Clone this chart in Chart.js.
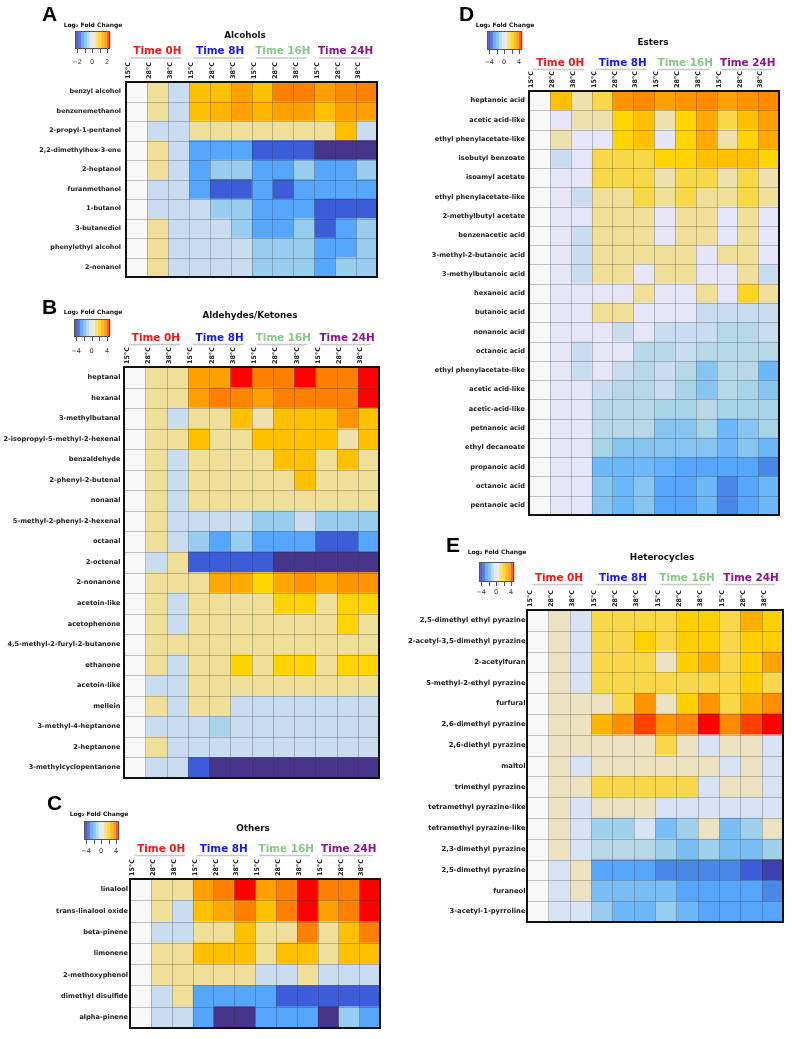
<!DOCTYPE html>
<html><head><meta charset="utf-8">
<script src="https://cdn.jsdelivr.net/npm/chart.js@4.4.1/dist/chart.umd.min.js"></script>
<style>
html,body{margin:0;padding:0;background:#fff;}
#wrap{position:relative;width:792px;height:1039px;overflow:hidden;background:#fff;}
canvas{position:absolute;left:0;top:0;}
</style>
</head><body><div id="wrap">
<canvas id="cA" width="792" height="1039"></canvas>
<canvas id="cB" width="792" height="1039"></canvas>
<canvas id="cC" width="792" height="1039"></canvas>
<canvas id="cD" width="792" height="1039"></canvas>
<canvas id="cE" width="792" height="1039"></canvas>
</div>
<script>
// ---------- data ----------
const tempLabels = ['15°C', '28°C', '38°C'];
const timeLabels = ['Time 0H', 'Time 8H', 'Time 16H', 'Time 24H'];
const timeColors = ['#f01818', '#1818ee', '#88c888', '#8a168a'];

const alcoholsRows = ['benzyl alcohol','benzenemethanol','2-propyl-1-pentanol','2,2-dimethylhex-3-ene','2-heptanol','furanmethanol','1-butanol','3-butanediol','phenylethyl alcohol','2-nonanol'];
const alcoholsValues = [
  [0, 0.3, -0.25, 1.0, 1.0, 1.3, 1.0, 1.6, 1.6, 1.3, 1.5, 1.6],
  [0, 0.3, -0.25, 1.0, 1.1, 1.3, 1.1, 1.3, 1.3, 1.0, 1.3, 1.3],
  [0, -0.25, -0.25, 0.3, 0.3, 0.3, 0.3, 0.3, 0.3, 0.3, 1.0, -0.25],
  [0, 0.3, -0.25, -1.1, -1.1, -1.1, -1.5, -1.5, -1.5, -2, -2, -2],
  [0, 0.3, -0.25, -1.1, -0.6, -0.6, -1.1, -1.1, -0.6, -1.1, -1.1, -0.6],
  [0, -0.25, -0.25, -1.1, -1.5, -1.5, -1.1, -1.5, -1.1, -1.1, -1.1, -1.1],
  [0, -0.25, -0.25, -0.25, -0.6, -0.6, -1.1, -1.1, -1.1, -1.5, -1.5, -1.5],
  [0, 0.3, -0.25, -0.25, -0.25, -0.6, -1.1, -1.1, -0.6, -1.5, -1.1, -0.6],
  [0, 0.3, -0.25, -0.25, -0.25, -0.25, -0.6, -0.6, -0.6, -1.1, -1.1, -0.6],
  [0, 0.3, -0.25, -0.25, -0.25, -0.25, -0.6, -0.6, -0.6, -1.1, -0.6, -0.6]
];

const aldehydesRows = ['heptanal','hexanal','3-methylbutanal','2-isopropyl-5-methyl-2-hexenal','benzaldehyde','2-phenyl-2-butenal','nonanal','5-methyl-2-phenyl-2-hexenal','octanal','2-octenal','2-nonanone','acetoin-like','acetophenone','4,5-methyl-2-furyl-2-butanone','ethanone','acetoin-like','mellein','3-methyl-4-heptanone','2-heptanone','3-methylcyclopentanone'];
const aldehydesValues = [
  [0, 0.6, 0.6, 2.6, 2.6, 4, 3.2, 3.2, 4, 3.2, 3.2, 4],
  [0, 0.6, 0.6, 2.6, 3.2, 3.1, 2.6, 3.2, 3.2, 3.2, 3.2, 4],
  [0, 0.6, -0.5, 0.6, 0.6, 2.0, 0.5, 2.0, 2.0, 2.0, 2.8, 2.0],
  [0, 0.6, 0.6, 2.0, 0.6, 0.6, 2.0, 2.0, 2.0, 2.0, 0.5, 2.0],
  [0, 0.6, -0.5, 0.6, 0.6, 0.6, 0.6, 2.0, 2.0, 0.6, 2.0, 0.6],
  [0, 0.6, -0.5, 0.6, 0.6, 0.6, 0.6, 0.6, 2.0, 0.6, 0.6, 0.6],
  [0, 0.6, -0.5, 0.6, 0.6, 0.6, 0.6, 0.6, 0.6, 0.6, 0.6, 0.6],
  [0, 0.6, -0.5, -0.5, -0.5, -0.5, -1.2, -1.2, -0.5, -1.2, -1.2, -1.2],
  [0, 0.6, -0.5, -1.2, -2.2, -1.2, -2.2, -2.2, -2.2, -3, -3, -2.2],
  [0, -0.5, 0.6, -3, -3, -3, -3, -4, -4, -4, -4, -4],
  [0, 0.6, 0.6, 0.6, 2.4, 2.4, 1.6, 2.4, 2.8, 2.4, 2.8, 2.8],
  [0, 0.6, -0.5, 0.6, 0.6, 0.6, 0.6, 1.6, 1.6, 0.6, 1.6, 1.6],
  [0, 0.6, -0.5, 0.6, 0.6, 0.6, 0.6, 0.6, 0.6, 0.6, 1.6, 0.6],
  [0, 0.6, 0.6, 0.6, 0.6, 0.6, 0.6, 0.6, 0.6, 0.6, 0.6, 0.6],
  [0, 0.6, -0.5, 0.6, 0.6, 1.6, 0.6, 1.6, 1.6, 0.6, 1.6, 1.6],
  [0, -0.5, -0.5, 0.6, 0.6, 0.6, 0.6, 0.6, 0.6, 0.6, 0.6, 0.6],
  [0, 0.6, -0.5, 0.6, 0.6, -0.5, -0.5, -0.5, -0.5, -0.5, -0.5, -0.5],
  [0, -0.5, -0.5, -0.5, -1.0, -0.5, -0.5, -0.5, -0.5, -0.5, -0.5, -0.5],
  [0, 0.6, -0.5, -0.5, -0.5, -0.5, -0.5, -0.5, -0.5, -0.5, -0.5, -0.5],
  [0, -0.5, -0.5, -3, -4, -4, -4, -4, -4, -4, -4, -4]
];

const othersRows = ['linalool','trans-linalool oxide','beta-pinene','limonene','2-methoxyphenol','dimethyl disulfide','alpha-pinene'];
const othersValues = [
  [0, 0.6, 0.6, 2.6, 3.2, 4, 2.6, 3.2, 4, 3.2, 3.2, 4],
  [0, 0.6, -0.5, 2.0, 2.4, 3.2, 2.0, 3.2, 4, 2.6, 3.2, 4],
  [0, -0.5, -0.5, 0.6, 0.6, 2.0, 0.6, 0.6, 3.2, 0.6, 2.0, 3.2],
  [0, 0.6, 0.6, 2.0, 2.0, 2.0, 0.6, 2.0, 2.0, 0.6, 2.0, 2.0],
  [0, 0.6, 0.6, 0.6, 0.6, 0.6, -0.5, -0.5, 0.6, -0.5, -0.5, -0.5],
  [0, -0.5, 0.6, -2.2, -2.2, -2.2, -2.2, -3, -3, -3, -3, -3],
  [0, -0.5, -0.5, -2.2, -4, -4, -2.2, -2.2, -2.2, -4, -1.2, -2.2]
];

const estersRows = ['heptanoic acid','acetic acid-like','ethyl phenylacetate-like','isobutyl benzoate','isoamyl acetate','ethyl phenylacetate-like','2-methylbutyl acetate','benzenacetic acid','3-methyl-2-butanoic acid','3-methylbutanoic acid','hexanoic acid','butanoic acid','nonanoic acid','octanoic acid','ethyl phenylacetate-like','acetic acid-like','acetic-acid-like','petnanoic acid','ethyl decanoate','propanoic acid','octanoic acid','pentanoic acid'];
const estersValues = [
  [0, 2.0, 0.5, 1.2, 2.8, 3.0, 2.6, 2.8, 3.0, 2.6, 2.8, 3.0],
  [0, -0.2, 0.5, 0.5, 1.6, 2.0, 0.5, 1.6, 2.4, 1.2, 2.0, 2.6],
  [0, 0.5, -0.2, -0.2, 1.6, 2.0, -0.2, 1.6, 2.4, 0.5, 1.6, 2.4],
  [0, -0.5, -0.2, 1.2, 1.2, 1.2, 1.6, 1.6, 2.0, 2.0, 2.0, 1.6],
  [0, -0.2, -0.2, 1.2, 1.2, 1.2, 0.5, 1.2, 1.2, 0.5, 1.2, 0.5],
  [0, -0.2, -0.5, 0.6, 0.6, 1.2, 0.6, 1.2, 0.6, 0.6, 1.2, 0.6],
  [0, -0.2, -0.2, 0.6, 0.6, 0.6, -0.2, 0.6, 0.6, -0.2, 0.6, -0.2],
  [0, -0.2, -0.5, 0.6, 0.6, 0.6, -0.2, 0.6, 0.6, -0.2, 0.6, -0.2],
  [0, -0.2, -0.5, 0.6, 0.6, 0.6, 0.6, 0.6, -0.2, 0.6, 0.6, -0.2],
  [0, -0.2, -0.5, 0.6, 0.6, -0.2, 0.6, 0.6, -0.2, -0.2, 0.6, -0.5],
  [0, -0.2, -0.2, -0.2, -0.2, 0.6, -0.2, -0.2, 0.6, -0.2, 1.4, 0.6],
  [0, -0.2, -0.2, 0.6, 0.6, -0.2, -0.2, -0.2, -0.5, -0.5, -0.5, -0.5],
  [0, -0.2, -0.2, -0.2, -0.5, -0.2, -0.5, -0.5, -0.5, -0.8, -0.8, -0.5],
  [0, -0.2, -0.5, -0.2, -0.2, -0.8, -0.8, -0.5, -0.8, -0.8, -0.8, -0.8],
  [0, -0.2, -0.5, -0.2, -0.5, -0.8, -0.5, -0.8, -1.4, -0.8, -0.8, -1.7],
  [0, -0.2, -0.2, -0.5, -0.8, -0.8, -0.5, -1.0, -1.4, -0.8, -1.0, -1.4],
  [0, -0.2, -0.2, -0.8, -0.8, -0.8, -1.0, -1.0, -0.8, -1.0, -1.0, -1.0],
  [0, -0.2, -0.2, -0.8, -0.8, -0.8, -1.4, -1.4, -1.0, -1.7, -1.4, -1.0],
  [0, -0.2, -0.2, -1.0, -1.4, -1.4, -1.4, -1.4, -1.4, -1.7, -1.4, -1.7],
  [0, -0.2, -0.2, -1.7, -1.7, -1.7, -1.9, -2.2, -2.2, -2.2, -2.2, -2.6],
  [0, -0.2, -0.2, -1.4, -1.7, -1.4, -2.2, -2.2, -1.7, -2.6, -2.2, -1.7],
  [0, -0.2, -0.2, -1.4, -1.7, -1.4, -2.2, -2.2, -1.7, -2.6, -2.2, -1.7]
];

const heteroRows = ['2,5-dimethyl ethyl pyrazine','2-acetyl-3,5-dimethyl pyrazine','2-acetylfuran','5-methyl-2-ethyl pyrazine','furfural','2,6-dimethyl pyrazine','2,6-diethyl pyrazine','maltol','trimethyl pyrazine','tetramethyl pyrazine-like','tetramethyl pyrazine-like','2,3-dimethyl pyrazine','2,5-dimethyl pyrazine','furaneol','3-acetyl-1-pyrroline'];
const heteroValues = [
  [0, 0.4, -0.35, 1.2, 1.2, 1.2, 1.2, 1.7, 1.7, 1.2, 2.3, 1.7],
  [0, 0.4, -0.35, 1.2, 1.2, 1.7, 1.2, 1.7, 1.7, 1.2, 1.7, 1.7],
  [0, 0.4, -0.35, 1.2, 1.2, 1.2, 0.4, 1.7, 2.2, 1.2, 1.7, 2.5],
  [0, 0.4, -0.35, 1.2, 1.2, 1.2, 1.2, 1.2, 1.2, 1.2, 1.7, 1.2],
  [0, 0.4, 0.4, 0.4, 1.2, 2.8, 0.4, 1.7, 2.8, 1.2, 2.3, 2.9],
  [0, 0.4, 0.4, 2.2, 2.9, 3.6, 2.8, 3.1, 4, 3.0, 3.6, 4],
  [0, 0.4, 0.4, 0.4, 0.4, 0.4, 1.2, 0.4, -0.35, 0.4, 0.4, -0.35],
  [0, 0.4, -0.35, 0.4, 0.4, 0.4, 0.4, 0.4, 0.4, -0.35, 0.4, -0.35],
  [0, 0.4, 0.4, 1.2, 1.2, 1.2, 1.2, 1.2, -0.35, 0.4, 0.4, -0.35],
  [0, 0.4, -0.35, 0.4, 0.4, 0.4, -0.35, -0.35, -0.35, -0.35, -0.35, -0.35],
  [0, 0.4, -0.35, -1.1, -1.1, -0.35, -1.55, -1.1, 0.4, -1.55, -1.1, 0.4],
  [0, 0.4, -0.35, -0.8, -0.8, -0.8, -1.1, -1.55, -1.1, -1.55, -1.55, -1.1],
  [0, -0.35, 0.4, -2.2, -2.2, -2.2, -2.6, -2.6, -2.6, -2.6, -3, -3.5],
  [0, -0.35, 0.4, -1.55, -1.55, -1.55, -1.55, -2.2, -2.2, -2.2, -2.2, -2.6],
  [0, -0.35, -0.35, -1.2, -1.7, -1.7, -1.2, -1.7, -2.2, -2.2, -2.2, -2.2]
];

// ---------- colour scale (values normalised to a ±4 scale) ----------
const colorStops = [
  [-4, '#46358a'], [-3.5, '#4040b0'], [-3, '#3c5cd8'], [-2.6, '#4a88e8'], [-2.2, '#55a6fc'],
  [-1.7, '#6cb8fa'], [-1.4, '#88c4f0'], [-1.2, '#98cdf0'], [-1.0, '#a8d4e8'], [-0.8, '#b8d8e8'],
  [-0.5, '#cadcf0'], [-0.35, '#d8e4f5'], [-0.2, '#e6e6f8'], [0, '#f8f8f8'], [0.4, '#ede3c3'],
  [0.6, '#f0df98'], [1.2, '#f8d848'], [1.6, '#ffd400'], [2.0, '#ffc000'], [2.4, '#ffa800'],
  [2.6, '#ffa000'], [2.8, '#ff9400'], [3.2, '#ff8000'], [3.6, '#ff4000'], [4, '#ff0000']
];
function hexToRgb(h) { return [parseInt(h.slice(1,3),16), parseInt(h.slice(3,5),16), parseInt(h.slice(5,7),16)]; }
function colorFor(v, range) {
  const s = Math.max(-4, Math.min(4, v * 4 / range));
  for (let i = 0; i < colorStops.length - 1; i++) {
    const [a, ca] = colorStops[i], [b, cb] = colorStops[i+1];
    if (s >= a && s <= b) {
      const t = (s - a) / (b - a), A = hexToRgb(ca), B = hexToRgb(cb);
      return 'rgb(' + A.map((x, k) => Math.round(x + (B[k] - x) * t)).join(',') + ')';
    }
  }
  return colorStops[colorStops.length - 1][1];
}

const W = 792, H = 1039;
const FONT = '"DejaVu Sans", Verdana, sans-serif';

function makePanel(id, rows, values, range, cfg) {
  const nCols = timeLabels.length * tempLabels.length;
  const g = cfg.grid;
  const decor = {
    id: 'decor_' + id,
    afterDatasetsDraw(chart) {
      const {ctx, chartArea: a, scales: {x, y}} = chart;
      ctx.save();
      ctx.strokeStyle = 'rgba(50,50,50,0.28)';
      ctx.lineWidth = 1;
      ctx.beginPath();
      for (let c = 1; c < nCols; c++) {
        const px = Math.round(x.getPixelForValue(c)) + 0.5;
        ctx.moveTo(px, a.top); ctx.lineTo(px, a.bottom);
      }
      for (let r = 1; r < rows.length; r++) {
        const py = Math.round(y.getPixelForValue(r - 0.5)) + 0.5;
        ctx.moveTo(a.left, py); ctx.lineTo(a.right, py);
      }
      ctx.stroke();
      ctx.strokeStyle = '#111';
      ctx.lineWidth = 2;
      ctx.strokeRect(a.left, a.top, a.right - a.left, a.bottom - a.top);
      ctx.restore();
    },
    afterDraw(chart) {
      const {ctx, scales: {x}} = chart;
      ctx.save();
      // panel letter
      ctx.fillStyle = '#000';
      ctx.font = 'bold 21px "Liberation Sans", Arial, sans-serif';
      ctx.textAlign = 'left'; ctx.textBaseline = 'alphabetic';
      ctx.fillText(cfg.letter, cfg.letterX, cfg.letterY);
      // title
      ctx.font = 'bold 8.8px ' + FONT;
      ctx.textAlign = 'center'; ctx.textBaseline = 'middle';
      ctx.fillStyle = '#111';
      ctx.fillText(cfg.title, cfg.titleX, cfg.titleY);
      // time headers
      for (let t = 0; t < timeLabels.length; t++) {
        const x0 = x.getPixelForValue(t * 3), x1 = x.getPixelForValue(t * 3 + 3);
        const cx = (x0 + x1) / 2;
        ctx.font = 'bold 10.4px ' + FONT;
        ctx.fillStyle = timeColors[t];
        ctx.fillText(timeLabels[t], cx, cfg.timeY);
        ctx.strokeStyle = '#c8c8c8';
        ctx.lineWidth = 1.5;
        ctx.beginPath();
        ctx.moveTo(cx - 27, cfg.timeY + 6.5); ctx.lineTo(cx + 24, cfg.timeY + 6.5);
        ctx.stroke();
      }
      // legend
      const lg = cfg.legend;
      ctx.fillStyle = '#111';
      ctx.font = 'bold 6px ' + FONT;
      ctx.fillText('Log\u2082 Fold Change', lg.cx, lg.ly);
      const nb = 12, bw = lg.w / nb;
      ctx.globalAlpha = 0.82;
      for (let i = 0; i < nb; i++) {
        const v = -range + (i + 0.5) * (2 * range / nb);
        ctx.fillStyle = colorFor(v, range);
        ctx.fillRect(lg.x + i * bw, lg.y, bw + 0.3, lg.h);
      }
      ctx.globalAlpha = 1;
      ctx.strokeStyle = '#555';
      ctx.lineWidth = 1;
      ctx.strokeRect(lg.x + 0.5, lg.y + 0.5, lg.w - 1, lg.h - 1);
      const tks = [];
      for (let k = 0; k < 5; k++) tks.push(lg.x + 2 + k * (lg.w - 5) / 4);
      ctx.beginPath();
      tks.forEach(tx => { ctx.moveTo(Math.round(tx) + 0.5, lg.y + lg.h); ctx.lineTo(Math.round(tx) + 0.5, lg.y + lg.h + 4); });
      ctx.stroke();
      ctx.font = '6.5px ' + FONT;
      ctx.fillStyle = '#333';
      ctx.fillText('\u2212' + range, tks[0], lg.ty);
      ctx.fillText('0', tks[2], lg.ty);
      ctx.fillText(String(range), tks[4], lg.ty);
      ctx.restore();
    }
  };

  const datasets = [];
  for (let c = 0; c < nCols; c++) {
    datasets.push({
      data: rows.map(() => 1),
      backgroundColor: values.map(r => colorFor(r[c], range)),
      borderWidth: 0,
      barPercentage: 1,
      categoryPercentage: 1
    });
  }

  new Chart(document.getElementById(id), {
    type: 'bar',
    data: { labels: rows, datasets },
    options: {
      indexAxis: 'y',
      responsive: false,
      animation: false,
      events: [],
      layout: { padding: { left: 0, top: 0, right: W - g.r, bottom: H - g.b } },
      plugins: { legend: { display: false }, tooltip: { enabled: false } },
      scales: {
        x: {
          type: 'linear', position: 'top', stacked: true, min: 0, max: nCols, bounds: 'data',
          grid: { display: false, drawTicks: false }, border: { display: false },
          afterBuildTicks: s => { s.ticks = Array.from({length: nCols}, (_, i) => ({ value: i + 0.5 })); },
          afterFit: s => { s.height = g.t; },
          ticks: {
            autoSkip: false, minRotation: 90, maxRotation: 90, padding: 3,
            font: { family: FONT, weight: 'bold', size: 6.5 }, color: '#222',
            callback: (v, i) => tempLabels[i % tempLabels.length]
          }
        },
        y: {
          type: 'category', stacked: true,
          grid: { display: false, drawTicks: false }, border: { display: false },
          afterFit: s => { s.width = g.l; },
          ticks: { autoSkip: false, padding: cfg.labelPad, font: { family: FONT, weight: 'bold', size: cfg.labelSize }, color: '#222' }
        }
      }
    },
    plugins: [decor]
  });
}

makePanel('cA', alcoholsRows, alcoholsValues, 2, {
  grid: { l: 126, t: 82, r: 377, b: 277 }, labelPad: 5, labelSize: 6.4,
  letter: 'A', letterX: 42, letterY: 21, title: 'Alcohols', titleX: 245, titleY: 36, timeY: 51.5,
  legend: { cx: 93, ly: 25, x: 75, y: 31, w: 35, h: 18, ty: 62 }
});
makePanel('cB', aldehydesRows, aldehydesValues, 4, {
  grid: { l: 124, t: 367, r: 379, b: 778 }, labelPad: 3.5, labelSize: 6.6,
  letter: 'B', letterX: 42, letterY: 314, title: 'Aldehydes/Ketones', titleX: 250, titleY: 316, timeY: 338,
  legend: { cx: 93, ly: 312, x: 74, y: 319, w: 36, h: 18, ty: 351 }
});
makePanel('cC', othersRows, othersValues, 4, {
  grid: { l: 130, t: 879, r: 380, b: 1028 }, labelPad: 2, labelSize: 6.6,
  letter: 'C', letterX: 47, letterY: 810, title: 'Others', titleX: 253, titleY: 829, timeY: 849,
  legend: { cx: 99, ly: 814, x: 84, y: 821, w: 35, h: 19, ty: 851 }
});
makePanel('cD', estersRows, estersValues, 4, {
  grid: { l: 529, t: 91, r: 779, b: 515 }, labelPad: 4, labelSize: 6.6,
  letter: 'D', letterX: 459, letterY: 21, title: 'Esters', titleX: 653, titleY: 43, timeY: 63,
  legend: { cx: 505, ly: 25, x: 487, y: 31, w: 35, h: 19, ty: 62 }
});
makePanel('cE', heteroRows, heteroValues, 4, {
  grid: { l: 527, t: 610, r: 783, b: 922 }, labelPad: 1.5, labelSize: 6.8,
  letter: 'E', letterX: 446, letterY: 552, title: 'Heterocycles', titleX: 662, titleY: 558, timeY: 578,
  legend: { cx: 497, ly: 552, x: 479, y: 562, w: 35, h: 20, ty: 592 }
});
</script>
</body></html>
